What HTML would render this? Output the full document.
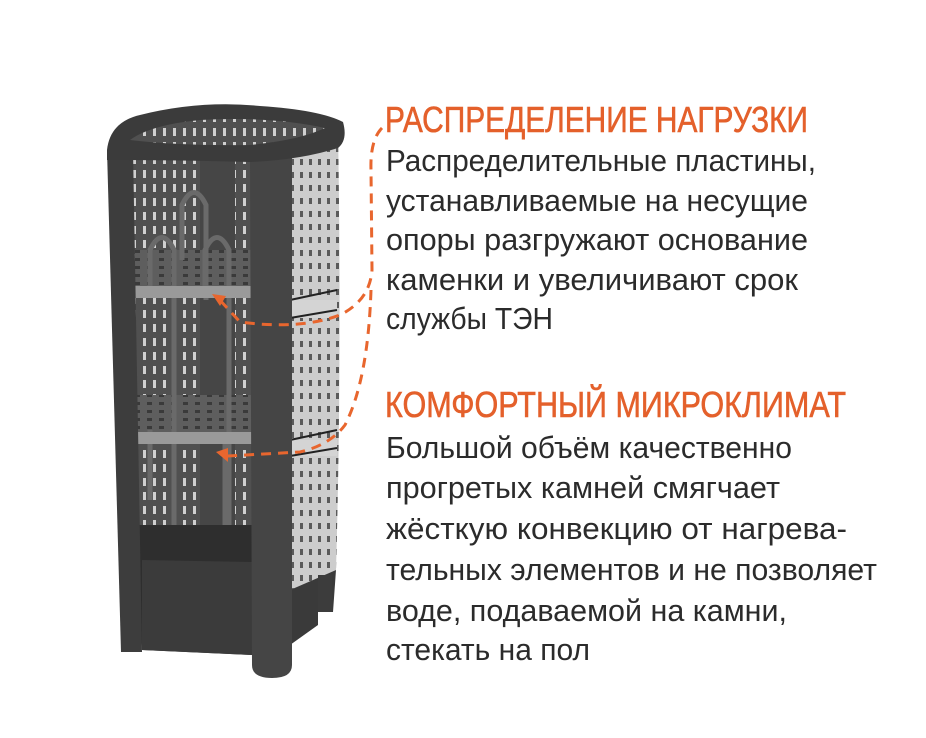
<!DOCTYPE html>
<html><head><meta charset="utf-8"><style>
html,body{margin:0;padding:0;background:#fff;}
svg{display:block;}
</style></head><body>
<svg width="926" height="738" viewBox="0 0 926 738" xmlns="http://www.w3.org/2000/svg">
<defs>
<pattern id="perfDark" x="0" y="0" width="10" height="14" patternUnits="userSpaceOnUse">
<rect width="10" height="14" fill="#505050"/>
<rect x="3" y="2" width="3" height="8" fill="#d0d0d0"/>
</pattern>
<pattern id="perfLight" x="0" y="0" width="9" height="13" patternUnits="userSpaceOnUse">
<rect width="9" height="13" fill="#cdcdcd"/>
<rect x="3" y="3" width="3" height="6" fill="#5a5a5a"/>
</pattern>
<pattern id="grate" x="0" y="0" width="12" height="8" patternUnits="userSpaceOnUse">
<rect width="12" height="8" fill="#5e5e5e"/>
<rect x="3" y="2" width="5" height="3" fill="#3a3a3a"/>
</pattern>
</defs>

<rect x="130" y="140" width="125" height="400" fill="url(#perfDark)"/>
<rect x="200" y="140" width="35" height="400" fill="#464646"/>
<rect x="135" y="250" width="118" height="40" fill="url(#grate)"/>
<rect x="135" y="395" width="118" height="40" fill="url(#grate)"/>
<g fill="none" stroke="#6a6a6a" stroke-width="5">
<path d="M150 290 V250 q12 -25 24 0 V540"/>
<path d="M182 260 V205 q12 -25 24 0 V300"/>
<path d="M205 295 V250 q12 -25 24 0 V540"/>
<path d="M150 430 V500 M225 440 V540"/>
</g>
<rect x="133" y="286" width="125" height="12" fill="#9a9a9a"/>
<rect x="133" y="432" width="125" height="12" fill="#9a9a9a"/>
<polygon points="133,525 252,525 252,655 142,650" fill="#2e2e2e"/>
<polygon points="142,560 252,562 252,655 142,650" fill="#3b3b3b"/>
<path d="M290 150 L338 130 Q342 360 336 570 L290 590 Z" fill="url(#perfLight)"/>
<rect x="290" y="300" width="47" height="18" fill="#d4d4d4"/>
<rect x="290" y="440" width="47" height="16" fill="#d4d4d4"/>
<path d="M290 300 L337 290 M290 318 L337 310 M290 440 L337 430 M290 456 L337 448" stroke="#222" stroke-width="2"/>
<polygon points="290,590 336,570 333,612 318,612 318,625 290,645" fill="#3a3a3a"/>
<rect x="318" y="575" width="14" height="37" fill="#3c3c3c"/>
<polygon points="107,150 133,150 142,652 121,652" fill="#3d3d3d"/>
<path d="M250 155 H292 V665 Q292 678 272 678 Q252 678 252 665 Z" fill="#454545"/>
<path d="M107 150 Q110 122 140 115 Q200 100 260 106 Q320 110 343 122 Q348 140 338 148 Q300 160 250 162 Q180 160 107 160 Z" fill="#3b3b3b"/>
<path d="M130 140 Q150 125 200 120 Q270 116 325 128 Q300 140 250 145 Q180 146 130 140 Z" fill="url(#perfDark)"/>

<g fill="none" stroke="#e8662e" stroke-width="3" stroke-dasharray="10,7">
<path d="M382 128 Q370 140 371 170 L372 270 Q370 300 340 315 Q300 330 240 322 L218 298"/>
<path d="M371 290 Q368 380 345 425 Q330 445 300 452 L228 456"/>
</g>
<path d="M212 294 L226 296 L220 306 Z" fill="#e8662e"/>
<path d="M216 452 L228 448 L228 462 Z" fill="#e8662e"/>

<g font-family="'Liberation Sans','Noto Sans CJK SC',sans-serif">
<text x="385" y="132" font-size="36" fill="#e4602b" stroke="#e4602b" stroke-width="0.6" textLength="423" lengthAdjust="spacingAndGlyphs">РАСПРЕДЕЛЕНИЕ НАГРУЗКИ</text>
<g font-size="31" fill="#2b2b2b">
<text x="386" y="171" textLength="430" lengthAdjust="spacingAndGlyphs">Распределительные пластины,</text>
<text x="386" y="211" textLength="422" lengthAdjust="spacingAndGlyphs">устанавливаемые на несущие</text>
<text x="386" y="250" textLength="422" lengthAdjust="spacingAndGlyphs">опоры разгружают основание</text>
<text x="386" y="290" textLength="412" lengthAdjust="spacingAndGlyphs">каменки и увеличивают срок</text>
<text x="386" y="329" textLength="167" lengthAdjust="spacingAndGlyphs">службы ТЭН</text>
</g>
<text x="385" y="417" font-size="36" fill="#e4602b" stroke="#e4602b" stroke-width="0.6" textLength="461" lengthAdjust="spacingAndGlyphs">КОМФОРТНЫЙ МИКРОКЛИМАТ</text>
<g font-size="31" fill="#2b2b2b">
<text x="386" y="458" textLength="406" lengthAdjust="spacingAndGlyphs">Большой объём качественно</text>
<text x="386" y="498" textLength="394" lengthAdjust="spacingAndGlyphs">прогретых камней смягчает</text>
<text x="386" y="539" textLength="461" lengthAdjust="spacingAndGlyphs">жёсткую конвекцию от нагрева-</text>
<text x="386" y="580" textLength="491" lengthAdjust="spacingAndGlyphs">тельных элементов и не позволяет</text>
<text x="386" y="621" textLength="401" lengthAdjust="spacingAndGlyphs">воде, подаваемой на камни,</text>
<text x="386" y="660" textLength="204" lengthAdjust="spacingAndGlyphs">стекать на пол</text>
</g>
</g>
</svg>
</body></html>
